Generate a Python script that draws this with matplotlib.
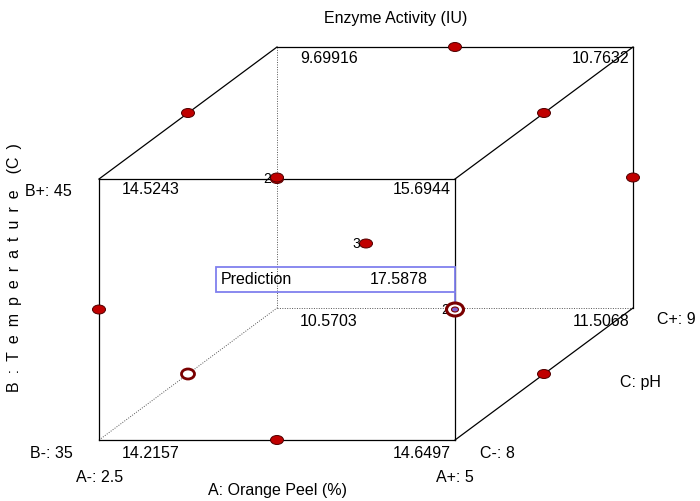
import matplotlib
matplotlib.use("Agg")
import matplotlib.pyplot as plt
from matplotlib.patches import Ellipse, Rectangle

plt.rcParams['font.family'] = ['Liberation Sans', 'DejaVu Sans']

# factor levels
A_levels = [2.5, 5]      # Orange Peel (%)
B_levels = [35, 45]      # Temperature (C)
C_levels = [8, 9]        # pH

# predicted response at cube corners: (A, B, C) -> value
corner_values = {
    (2.5, 35, 8): 14.2157, (5, 35, 8): 14.6497,
    (2.5, 45, 8): 14.5243, (5, 45, 8): 15.6944,
    (2.5, 35, 9): 10.5703, (5, 35, 9): 11.5068,
    (2.5, 45, 9): 9.69916, (5, 45, 9): 10.7632,
}

# design points (Box-Behnken edge midpoints + center)
design_A = [3.75, 3.75, 3.75, 3.75, 2.5, 5, 2.5, 5, 2.5, 5, 2.5, 5, 3.75]
design_B = [45, 45, 35, 35, 40, 40, 40, 40, 45, 45, 35, 35, 40]
design_C = [8, 9, 8, 9, 8, 8, 9, 9, 8.5, 8.5, 8.5, 8.5, 8.5]
count_labels = {(3.75, 45, 8): "2", (5, 40, 8): "2", (3.75, 40, 8.5): "3"}
hollow_point = (2.5, 35, 8.5)
pred_point = (5, 40, 8)
pred_value = 17.5878

FS = 11.5

# projection of the cube onto the page (pixels)
X0, Y0, W, H, DX, DY = 99, 440, 356, 261, 178, -132

def proj(a, b, c):
    u = (a - A_levels[0]) / (A_levels[1] - A_levels[0])
    v = (b - B_levels[0]) / (B_levels[1] - B_levels[0])
    w = (c - C_levels[0]) / (C_levels[1] - C_levels[0])
    return X0 + W * u + DX * w, Y0 - H * v + DY * w

fig = plt.figure(figsize=(7, 5.01), dpi=100)
ax = fig.add_axes([0, 0, 1, 1])
ax.set_xlim(0, 700)
ax.set_ylim(501, 0)
ax.axis('off')

aL, aH = A_levels
bL, bH = B_levels
cL, cH = C_levels
hidden = (aL, bL, cH)
corners = [(a, b, c) for a in A_levels for b in B_levels for c in C_levels]
for p in corners:
    for q in corners:
        if p < q and sum(x != y for x, y in zip(p, q)) == 1:
            (x1, y1), (x2, y2) = proj(*p), proj(*q)
            if hidden in (p, q):
                ax.plot([x1, x2], [y1, y2], color='#555555', lw=0.7, ls=(0, (1, 1.5)))
            else:
                ax.plot([x1, x2], [y1, y2], color='black', lw=0.9)

# corner values
for (a, b, c), val in corner_values.items():
    x, y = proj(a, b, c)
    ty = y + (11 if b == bH else 13)
    if a == aL:
        ax.text(x + 23, ty, f"{val:g}", ha='left', va='center', fontsize=FS)
    else:
        ax.text(x - 4, ty, f"{val:g}", ha='right', va='center', fontsize=FS)

# design points
for a, b, c in zip(design_A, design_B, design_C):
    x, y = proj(a, b, c)
    if (a, b, c) == hollow_point:
        ax.add_patch(Ellipse((x, y), 13, 10, fc='white', ec='#7a0000', lw=2, zorder=5))
    else:
        ax.add_patch(Ellipse((x, y), 13, 9, fc='#c00000', ec='#500000', lw=0.7, zorder=5))
for (a, b, c), lab in count_labels.items():
    x, y = proj(a, b, c)
    ax.text(x - 6, y, lab, ha='right', va='center', fontsize=10, zorder=6)

# prediction marker and box
px, py = proj(*pred_point)
ax.add_patch(Ellipse((px, py), 17, 13, fc='white', ec='#7a0000', lw=2.2, zorder=7))
ax.add_patch(Ellipse((px, py), 7, 5, fc='#8060d0', ec='#7a0000', lw=0.8, zorder=8))
ax.add_patch(Rectangle((216, 267), px - 216, 25, fill=False, ec='#8080ee', lw=1.3, zorder=6))
ax.plot([px, px], [292, py], color='#8080ee', lw=1.3, zorder=6)
ax.text(221, 280, "Prediction", ha='left', va='center', fontsize=FS)
ax.text(370, 280, f"{pred_value:g}", ha='left', va='center', fontsize=FS)

# axis annotations
ax.text(396, 18, "Enzyme Activity (IU)", ha='center', va='center', fontsize=FS)
ax.text(277, 490, "A: Orange Peel (%)", ha='center', va='center', fontsize=FS)
ax.text(76, 478, f"A-: {aL:g}", ha='left', va='center', fontsize=FS)
ax.text(436, 478, f"A+: {aH:g}", ha='left', va='center', fontsize=FS)
ax.text(25, 192, f"B+: {bH:g}", ha='left', va='center', fontsize=FS)
ax.text(30, 453, f"B-: {bL:g}", ha='left', va='center', fontsize=FS)
# spaced-out vertical label, en spaces between letters
ylabel = "B\u2002:\u2002T\u2002e\u2002m\u2002p\u2002e\u2002r\u2002a\u2002t\u2002u\u2002r\u2002e\u2002\u2002(C\u2002)"
ax.text(15, 268, ylabel, rotation=90, ha='center', va='center', fontsize=FS)
ax.text(480, 453, f"C-: {cL:g}", ha='left', va='center', fontsize=FS)
ax.text(657, 320, f"C+: {cH:g}", ha='left', va='center', fontsize=FS)
ax.text(640, 382, "C: pH", ha='center', va='center', fontsize=FS)

fig.savefig("out.png", dpi=100)
